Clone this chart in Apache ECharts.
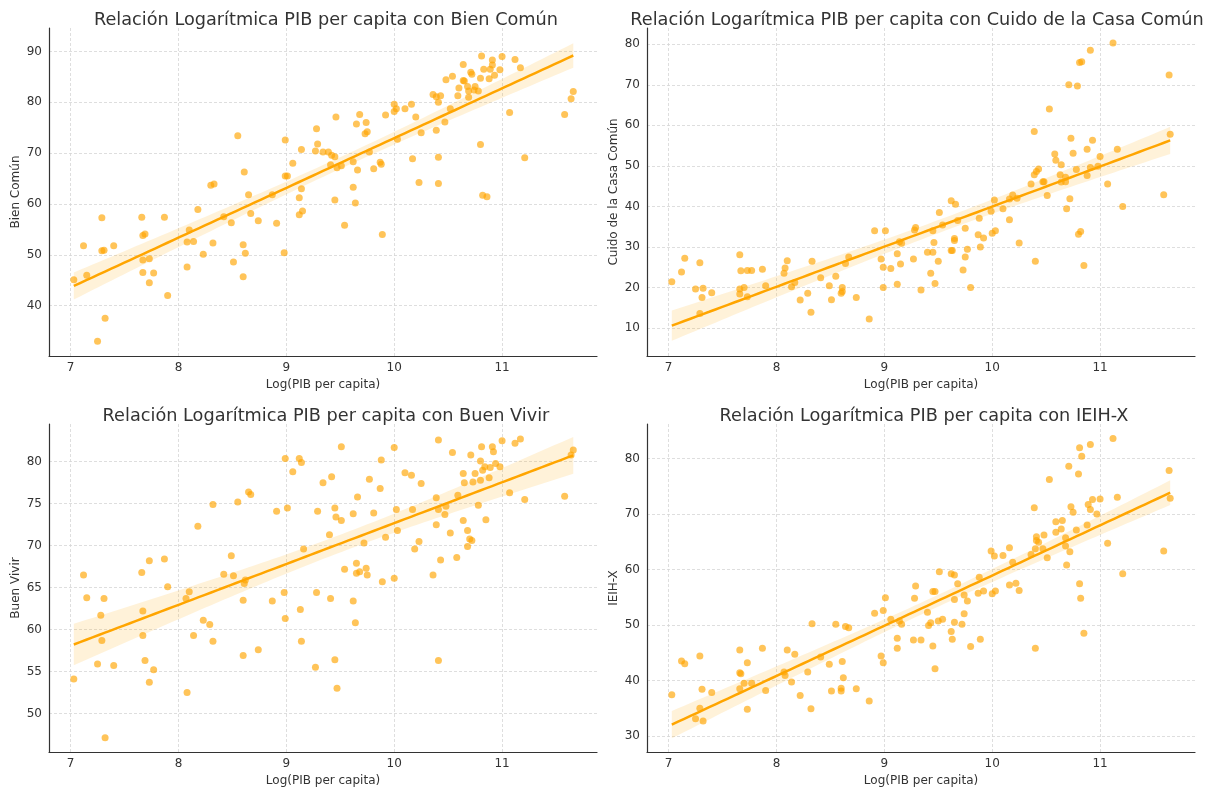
<!DOCTYPE html>
<html>
<head>
<meta charset="utf-8">
<script src="https://cdn.jsdelivr.net/npm/echarts@6/dist/echarts.min.js"></script>
<title>Relación Logarítmica PIB per capita</title>
<style>
  html, body { margin: 0; padding: 0; background: #fff; }
  #main { position: absolute; top: 0; left: 0; width: 1217px; height: 788px; }
</style>
</head>
<body>
<div id="main"></div>
<script>
var bienComun = [
  [7.03,45.1],[7.12,51.8],[7.15,46.0],[7.25,33.0],[7.29,57.3],[7.29,50.8],[7.31,50.9],[7.32,37.5],[7.40,51.8],
  [7.66,57.4],[7.67,53.8],[7.69,54.1],[7.67,49.0],[7.73,49.2],[7.67,46.5],[7.77,46.4],[7.73,44.5],[7.87,57.4],
  [7.90,42.0],[8.08,47.6],[8.08,52.5],[8.10,54.9],[8.14,52.6],[8.18,58.9],[8.23,50.1],[8.30,63.7],[8.33,63.9],
  [8.32,52.3],[8.42,57.5],[8.49,56.3],[8.51,48.6],[8.55,73.4],[8.61,66.3],[8.60,52.0],[8.62,50.3],[8.60,45.7],
  [8.65,61.8],[8.67,58.1],[8.74,56.7],[8.87,61.8],[8.91,56.2],[8.98,50.4],[8.99,72.6],[8.99,65.5],[9.01,65.5],
  [9.06,68.0],[9.12,61.2],[9.14,70.7],[9.14,63.0],[9.15,58.6],[9.12,57.9],[9.28,74.8],[9.29,71.8],[9.27,70.4],
  [9.34,70.2],[9.39,70.2],[9.42,69.6],[9.45,69.3],[9.46,77.1],[9.41,67.7],[9.47,67.1],[9.51,67.5],[9.45,60.8],
  [9.54,55.8],[9.62,63.3],[9.62,68.3],[9.64,60.2],[9.65,75.7],[9.66,66.7],[9.68,77.6],[9.73,73.8],[9.74,76.0],
  [9.75,74.2],[9.77,70.2],[9.81,66.9],[9.87,68.2],[9.88,67.8],[9.89,54.0],[9.92,77.5],[10.00,79.6],[10.00,78.2],
  [10.02,78.7],[10.03,72.7],[10.10,78.7],[10.16,79.6],[10.20,77.1],[10.17,68.9],[10.23,64.2],[10.25,74.0],
  [10.36,81.5],[10.39,81.1],[10.43,81.3],[10.41,80.0],[10.39,74.5],[10.41,69.2],[10.41,64.0],[10.47,76.1],
  [10.48,84.4],[10.52,78.7],[10.54,85.1],[10.59,81.3],[10.60,82.8],[10.64,87.4],[10.64,84.3],[10.65,84.2],
  [10.68,83.1],[10.69,82.2],[10.69,81.0],[10.71,85.9],[10.72,85.5],[10.74,82.4],[10.75,83.1],[10.78,82.2],
  [10.80,84.7],[10.81,89.1],[10.82,61.7],[10.80,71.7],[10.83,86.5],[10.86,61.4],[10.88,84.6],[10.89,86.5],
  [10.91,88.3],[10.91,87.3],[10.93,85.3],[10.98,86.4],[11.00,89.0],[11.07,78.0],[11.12,88.4],[11.17,86.8],
  [11.21,69.1],[11.58,77.6],[11.64,80.7],[11.66,82.1]
];

var cuidoCasa = [
  [7.03,21.4],[7.12,23.8],[7.15,27.2],[7.25,19.6],[7.29,26.1],[7.29,13.6],[7.31,17.5],[7.32,19.8],[7.40,18.7],
  [7.66,28.1],[7.67,24.1],[7.66,19.6],[7.66,18.4],[7.70,20.0],[7.73,17.7],[7.73,24.2],[7.77,24.2],[7.87,24.5],
  [7.90,20.4],[8.07,23.5],[8.08,24.8],[8.10,26.6],[8.14,20.2],[8.17,21.2],[8.22,16.9],[8.29,18.6],[8.32,13.9],
  [8.33,26.5],[8.41,22.4],[8.49,20.4],[8.51,17.0],[8.55,22.8],[8.61,20.0],[8.61,19.0],[8.60,18.6],[8.64,25.9],
  [8.67,27.5],[8.74,17.5],[8.86,12.2],[8.91,34.0],[8.97,27.0],[8.99,25.0],[8.99,20.0],[9.01,34.0],[9.06,24.7],
  [9.12,28.3],[9.12,20.8],[9.15,25.8],[9.14,31.3],[9.16,30.9],[9.27,27.0],[9.28,34.2],[9.29,34.8],[9.34,19.4],
  [9.40,28.7],[9.43,23.5],[9.45,28.7],[9.45,34.0],[9.46,31.1],[9.47,21.0],[9.50,26.5],[9.51,38.5],[9.54,35.4],
  [9.62,29.1],[9.63,29.1],[9.62,41.4],[9.65,32.1],[9.65,31.6],[9.66,40.5],[9.68,36.5],[9.73,24.3],[9.75,34.6],
  [9.75,27.5],[9.77,29.4],[9.80,20.0],[9.87,33.0],[9.88,37.1],[9.89,30.0],[9.92,32.2],[9.99,38.8],[10.00,33.4],
  [10.02,41.6],[10.03,34.0],[10.10,39.4],[10.16,36.7],[10.16,41.8],[10.19,42.8],[10.23,42.0],[10.25,31.0],
  [10.36,45.5],[10.39,58.5],[10.39,47.8],[10.41,48.6],[10.40,26.5],[10.43,49.2],[10.47,46.1],[10.48,46.1],
  [10.51,42.7],[10.53,64.0],[10.58,52.9],[10.59,51.4],[10.64,50.3],[10.63,47.8],[10.64,46.0],[10.68,47.2],
  [10.68,46.1],[10.69,39.4],[10.71,70.0],[10.72,41.9],[10.73,56.8],[10.75,53.1],[10.78,49.1],[10.79,69.7],
  [10.81,75.5],[10.83,75.7],[10.80,33.1],[10.82,33.8],[10.85,25.4],[10.88,54.1],[10.88,47.6],[10.91,78.5],
  [10.91,49.6],[10.93,56.3],[10.98,49.9],[11.00,52.3],[11.07,45.5],[11.12,80.3],[11.16,54.1],[11.21,40.0],
  [11.59,42.9],[11.64,72.4],[11.65,57.8]
];

var buenVivir = [
  [7.03,54.1],[7.12,66.5],[7.15,63.8],[7.25,55.9],[7.28,61.7],[7.29,58.7],[7.31,63.7],[7.32,47.1],[7.40,55.7],
  [7.66,66.8],[7.67,62.2],[7.67,59.3],[7.69,56.3],[7.73,68.2],[7.73,53.7],[7.77,55.2],[7.87,68.4],[7.90,65.1],
  [8.07,63.7],[8.08,52.5],[8.10,64.5],[8.14,59.3],[8.18,72.3],[8.23,61.1],[8.29,60.6],[8.32,74.9],[8.32,58.6],
  [8.42,66.6],[8.49,68.8],[8.51,66.4],[8.55,75.2],[8.60,56.9],[8.60,63.5],[8.61,65.5],[8.62,65.9],[8.65,76.4],
  [8.67,76.1],[8.74,57.6],[8.87,63.4],[8.91,74.1],[8.98,64.4],[8.99,80.4],[8.99,61.3],[9.01,74.5],[9.06,78.8],
  [9.12,80.4],[9.13,62.4],[9.14,79.9],[9.14,58.6],[9.16,69.6],[9.27,55.5],[9.28,64.4],[9.29,74.1],[9.34,77.5],
  [9.40,71.3],[9.41,63.7],[9.42,78.2],[9.45,74.5],[9.45,56.4],[9.46,73.4],[9.47,53.0],[9.51,73.0],[9.51,81.8],
  [9.54,67.2],[9.62,73.8],[9.62,63.4],[9.64,60.8],[9.65,67.9],[9.66,75.8],[9.65,66.7],[9.68,66.9],[9.72,70.3],
  [9.74,67.3],[9.75,66.5],[9.77,77.9],[9.81,73.9],[9.87,76.8],[9.88,80.2],[9.89,65.7],[9.92,71.0],[10.00,81.7],
  [10.00,66.1],[10.02,74.3],[10.03,71.8],[10.10,78.7],[10.16,78.4],[10.17,74.3],[10.19,69.6],[10.23,70.5],
  [10.25,77.4],[10.36,66.5],[10.41,82.6],[10.39,75.7],[10.39,72.5],[10.41,74.3],[10.41,56.3],[10.43,68.3],
  [10.47,73.7],[10.48,74.7],[10.52,71.5],[10.54,81.1],[10.58,68.6],[10.59,76.0],[10.64,78.6],[10.65,77.5],
  [10.64,73.0],[10.68,71.8],[10.68,69.9],[10.70,70.8],[10.72,70.6],[10.71,80.8],[10.73,77.6],[10.75,78.6],
  [10.78,74.8],[10.80,77.8],[10.80,80.1],[10.81,81.8],[10.82,79.0],[10.84,79.4],[10.85,73.1],[10.88,78.1],
  [10.89,79.3],[10.91,81.8],[10.92,81.2],[10.94,79.8],[10.98,79.4],[11.00,82.5],[11.07,76.3],[11.12,82.2],
  [11.17,82.7],[11.21,75.5],[11.58,75.9],[11.64,80.8],[11.66,81.4]
];

var ieihX = [
  [7.03,37.4],[7.12,43.5],[7.15,43.0],[7.25,33.1],[7.29,35.0],[7.29,44.4],[7.31,38.4],[7.32,32.7],[7.40,37.8],
  [7.66,45.5],[7.66,41.4],[7.67,41.2],[7.66,38.5],[7.70,39.5],[7.73,43.2],[7.73,34.8],[7.77,39.5],[7.87,45.8],
  [7.90,38.2],[8.07,41.5],[8.08,40.9],[8.10,45.5],[8.14,39.7],[8.17,44.7],[8.22,37.3],[8.29,41.5],[8.32,34.9],
  [8.33,50.2],[8.41,44.2],[8.49,42.9],[8.51,38.1],[8.55,50.1],[8.61,43.4],[8.60,38.6],[8.60,38.1],[8.62,40.5],
  [8.64,49.7],[8.67,49.5],[8.74,38.5],[8.86,36.3],[8.91,52.1],[8.97,44.4],[8.99,43.2],[8.99,52.6],[9.01,54.9],
  [9.06,51.0],[9.12,47.6],[9.12,45.8],[9.14,50.7],[9.16,50.1],[9.27,47.3],[9.28,54.8],[9.29,57.0],[9.34,47.3],
  [9.40,52.3],[9.41,49.9],[9.43,50.4],[9.45,56.0],[9.47,56.0],[9.45,46.2],[9.47,42.1],[9.51,59.6],[9.50,50.7],
  [9.54,51.0],[9.62,59.2],[9.62,48.8],[9.63,47.4],[9.65,59.0],[9.65,54.6],[9.65,50.5],[9.68,57.4],[9.72,50.1],
  [9.74,55.4],[9.74,52.0],[9.77,54.3],[9.80,46.1],[9.87,55.7],[9.88,58.6],[9.89,47.4],[9.92,56.1],[9.99,63.3],
  [10.00,55.6],[10.02,62.4],[10.03,56.1],[10.10,62.5],[10.16,63.9],[10.16,57.2],[10.19,61.3],[10.22,57.5],
  [10.25,56.2],[10.36,62.7],[10.39,71.1],[10.40,63.7],[10.41,65.9],[10.41,65.2],[10.43,64.9],[10.40,45.8],
  [10.47,63.7],[10.48,66.2],[10.51,62.1],[10.53,76.2],[10.59,66.7],[10.59,68.6],[10.64,67.3],[10.65,68.8],
  [10.68,65.7],[10.68,64.2],[10.69,60.8],[10.71,78.6],[10.72,63.2],[10.73,71.3],[10.75,70.3],[10.78,67.1],
  [10.80,77.2],[10.81,57.4],[10.81,81.9],[10.82,54.8],[10.83,80.4],[10.85,48.5],[10.88,68.0],[10.89,71.7],
  [10.91,82.5],[10.91,70.8],[10.93,72.6],[10.97,70.0],[11.00,72.7],[11.07,64.7],[11.12,83.6],[11.16,73.0],
  [11.21,59.2],[11.59,63.3],[11.64,77.8],[11.65,72.8]
];

var titulos = [
  'Relación Logarítmica PIB per capita con Bien Común',
  'Relación Logarítmica PIB per capita con Cuido de la Casa Común',
  'Relación Logarítmica PIB per capita con Buen Vivir',
  'Relación Logarítmica PIB per capita con IEIH-X'
];
var nombresY = ['Bien Común', 'Cuido de la Casa Común', 'Buen Vivir', 'IEIH-X'];
var nombreX = 'Log(PIB per capita)';
var rangoX = [6.8, 11.88];
var rangosY = [[30.1, 94.6], [3.1, 84.0], [45.4, 84.5], [27.1, 86.2]];
var divisionesY = [6, 8, 8, 6];
var paneles = [bienComun, cuidoCasa, buenVivir, ieihX];

var naranja = '#FFA500';
var fuente = 'DejaVu Sans';

// ajuste lineal con intervalo de confianza del 95 %
function regresion(puntos) {
  var n = puntos.length, sx = 0, sy = 0;
  puntos.forEach(function (p) { sx += p[0]; sy += p[1]; });
  var mx = sx / n, my = sy / n, sxx = 0, sxy = 0;
  puntos.forEach(function (p) { sxx += (p[0] - mx) * (p[0] - mx); sxy += (p[0] - mx) * (p[1] - my); });
  var b = sxy / sxx, a = my - b * mx, sse = 0;
  puntos.forEach(function (p) { var r = p[1] - (a + b * p[0]); sse += r * r; });
  var s = Math.sqrt(sse / (n - 2));
  var xs = puntos.map(function (p) { return p[0]; });
  var x0 = Math.min.apply(null, xs), x1 = Math.max.apply(null, xs);
  var linea = [], banda = [];
  for (var i = 0; i <= 80; i++) {
    var x = x0 + (x1 - x0) * i / 80;
    var y = a + b * x;
    var h = 1.98 * s * Math.sqrt(1 / n + (x - mx) * (x - mx) / sxx);
    linea.push([x, y]);
    banda.push([x, y - h, y + h]);
  }
  return { linea: linea, banda: banda };
}

// cajas de cada panel y centro del titulo
var cajas = [
  { left: 49, top: 28, centro: 321 }, { left: 647, top: 28, centro: 912 },
  { left: 49, top: 424, centro: 321 }, { left: 647, top: 424, centro: 919 }
];

var grids = [], xAxes = [], yAxes = [], titles = [], series = [];

paneles.forEach(function (puntos, k) {
  var caja = cajas[k];
  grids.push({ left: caja.left, top: caja.top, width: 548, height: 328 });
  titles.push({
    text: titulos[k],
    left: caja.centro, top: caja.top - 22, textAlign: 'center',
    textStyle: { fontFamily: fuente, fontSize: 17.7, fontWeight: 'normal', color: '#333' }
  });
  var lineaGrid = { show: true, lineStyle: { color: '#d6d6d6', type: [3, 2], width: 0.8 }, showMinLine: false, showMaxLine: false };
  xAxes.push({
    type: 'value', gridIndex: k, min: rangoX[0], max: rangoX[1], splitNumber: 5,
    name: nombreX, nameLocation: 'middle', nameGap: 23,
    nameTextStyle: { fontFamily: fuente, fontSize: 12, color: '#333' },
    axisLine: { onZero: false, lineStyle: { color: '#333', width: 1.2 } },
    axisTick: { show: false },
    axisLabel: { fontFamily: fuente, fontSize: 12, color: '#333', margin: 6, showMinLabel: false, showMaxLabel: false },
    splitLine: lineaGrid
  });
  yAxes.push({
    type: 'value', gridIndex: k, min: rangosY[k][0], max: rangosY[k][1], splitNumber: divisionesY[k],
    name: nombresY[k], nameLocation: 'middle', nameGap: 27,
    nameTextStyle: { fontFamily: fuente, fontSize: 12, color: '#333' },
    axisLine: { show: true, onZero: false, lineStyle: { color: '#333', width: 1.2 } },
    axisTick: { show: false },
    axisLabel: { fontFamily: fuente, fontSize: 12, color: '#333', margin: 7, showMinLabel: false, showMaxLabel: false },
    splitLine: lineaGrid
  });

  var ajuste = regresion(puntos);
  var banda = ajuste.banda;

  series.push({
    type: 'scatter', xAxisIndex: k, yAxisIndex: k, data: puntos,
    symbolSize: 7, itemStyle: { color: naranja, opacity: 0.65 }, z: 2
  });
  series.push({
    type: 'custom', xAxisIndex: k, yAxisIndex: k, data: banda,
    encode: { x: 0, y: [1, 2] }, silent: true, z: 3,
    renderItem: function (params, api) {
      if (params.dataIndex !== 0) return;
      var pts = [];
      for (var i = 0; i < banda.length; i++) pts.push(api.coord([banda[i][0], banda[i][2]]));
      for (var j = banda.length - 1; j >= 0; j--) pts.push(api.coord([banda[j][0], banda[j][1]]));
      return { type: 'polygon', shape: { points: pts }, style: { fill: 'rgba(255,165,0,0.15)' } };
    }
  });
  series.push({
    type: 'line', xAxisIndex: k, yAxisIndex: k, data: ajuste.linea,
    showSymbol: false, lineStyle: { color: naranja, width: 2.5 }, z: 4, silent: true
  });
});

var myChart = echarts.init(document.getElementById('main'));
myChart.setOption({
  animation: false,
  backgroundColor: '#fff',
  title: titles,
  grid: grids,
  xAxis: xAxes,
  yAxis: yAxes,
  series: series
});
</script>
</body>
</html>
